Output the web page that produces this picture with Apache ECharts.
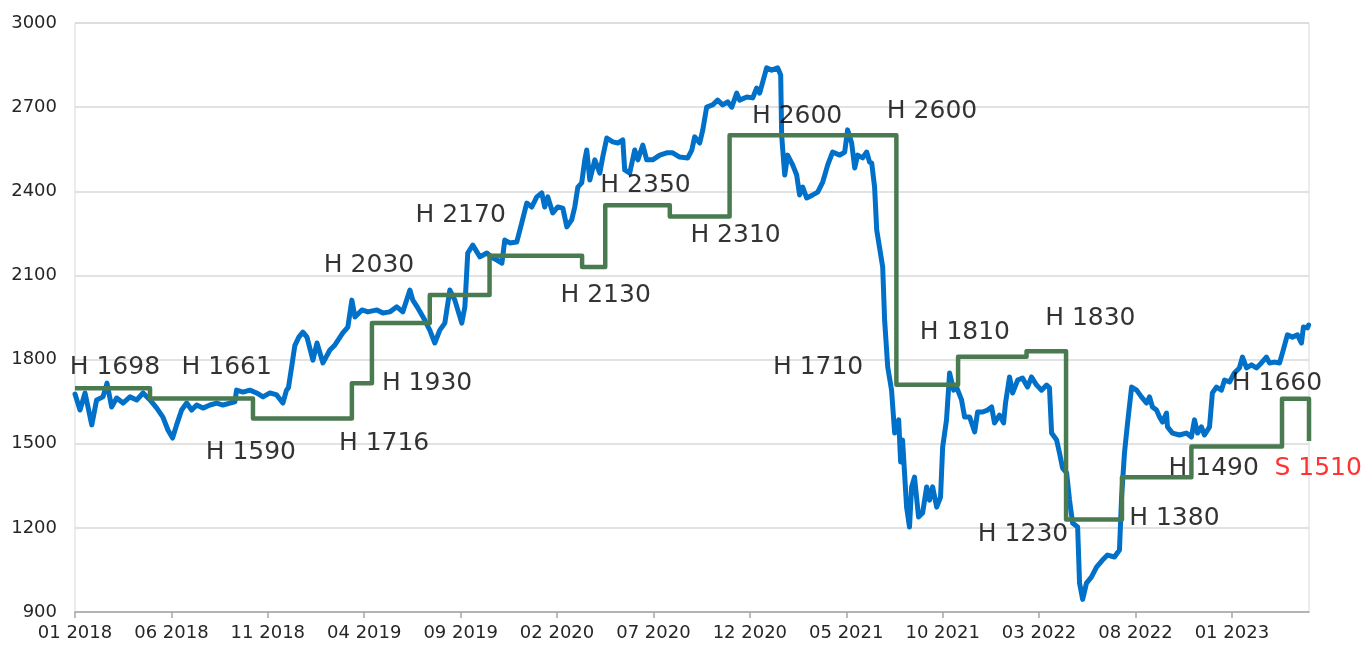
<!DOCTYPE html>
<html>
<head>
<meta charset="utf-8">
<script src="https://cdn.jsdelivr.net/npm/echarts@6/dist/echarts.min.js"></script>
<style>
html,body{margin:0;padding:0;background:#fff;}
#chart{width:1368px;height:646px;}
</style>
</head>
<body>
<div id="chart"></div>
<script>
// ---------- DATA ----------
// x values are months elapsed since 01 2018 (fractional)
const tickMonths = [0,5,10,15,20,25,30,35,40,45,50,55,60];
const tickLabels = ["01 2018","06 2018","11 2018","04 2019","09 2019","02 2020","07 2020","12 2020","05 2021","10 2021","03 2022","08 2022","01 2023"];

const priceT = [
 0.00,0.26,0.52,0.87,1.12,1.45,1.66,1.90,2.16,2.49,2.85,3.20,3.53,3.89,4.24,4.56,4.82,5.06,5.27,5.53,
 5.79,6.05,6.31,6.64,7.00,7.35,7.67,8.04,8.29,8.38,8.71,9.07,9.42,9.75,10.11,10.46,10.78,10.97,11.07,11.25,
 11.40,11.61,11.82,12.03,12.34,12.55,12.86,13.22,13.48,13.89,14.15,14.36,14.52,14.88,15.19,15.66,15.97,16.33,16.69,17.00,
 17.37,17.52,17.78,18.14,18.40,18.66,18.92,19.18,19.44,19.70,20.06,20.22,20.37,20.63,21.00,21.36,21.67,21.88,22.14,22.29,
 22.55,22.91,23.17,23.43,23.69,23.95,24.21,24.36,24.52,24.78,25.04,25.30,25.51,25.76,25.92,26.08,26.28,26.44,26.54,26.70,
 26.96,27.22,27.37,27.58,27.89,28.15,28.41,28.51,28.77,29.03,29.19,29.45,29.65,29.96,30.33,30.69,31.00,31.36,31.78,31.99,
 32.14,32.40,32.56,32.76,33.07,33.33,33.59,33.85,34.06,34.32,34.47,34.84,35.15,35.35,35.51,35.67,35.87,36.13,36.44,36.60,
 36.65,36.70,36.81,36.96,37.22,37.43,37.58,37.74,37.95,38.26,38.52,38.78,39.04,39.29,39.66,39.92,40.07,40.28,40.44,40.59,
 40.85,41.06,41.21,41.32,41.47,41.58,41.89,41.99,42.15,42.35,42.51,42.72,42.82,42.92,43.13,43.28,43.39,43.54,43.75,43.96,
 44.17,44.32,44.48,44.69,44.89,45.00,45.20,45.36,45.57,45.72,45.98,46.14,46.40,46.66,46.81,47.07,47.33,47.54,47.69,47.95,
 48.16,48.26,48.47,48.63,48.89,49.14,49.40,49.61,49.87,50.13,50.39,50.54,50.65,50.91,51.06,51.22,51.43,51.58,51.74,52.00,
 52.10,52.26,52.46,52.72,52.98,53.29,53.55,53.91,54.17,54.28,54.43,54.59,54.80,55.06,55.31,55.57,55.73,55.88,56.09,56.25,
 56.40,56.61,56.66,56.92,57.28,57.64,57.90,58.06,58.22,58.42,58.58,58.84,58.99,59.20,59.46,59.62,59.88,60.13,60.39,60.55,
 60.76,61.02,61.27,61.53,61.79,61.95,62.21,62.47,62.62,62.88,63.14,63.40,63.61,63.71,63.92,63.98
];
const priceV = [
 1677,1620,1681,1567,1656,1667,1716,1631,1663,1645,1667,1656,1681,1656,1627,1595,1549,1520,1567,1620,
 1645,1620,1638,1627,1638,1645,1638,1645,1649,1691,1684,1691,1681,1667,1681,1674,1645,1691,1700,1780,
 1850,1880,1898,1880,1798,1859,1788,1834,1852,1895,1916,2012,1952,1977,1970,1977,1966,1970,1988,1970,
 2048,2012,1984,1941,1905,1859,1905,1930,2048,2012,1930,1988,2180,2208,2166,2180,2162,2155,2144,2226,
 2216,2219,2287,2358,2344,2380,2394,2344,2380,2323,2344,2340,2273,2298,2344,2415,2430,2512,2547,2440,
 2512,2465,2522,2590,2576,2572,2583,2476,2465,2547,2512,2565,2512,2512,2529,2537,2537,2522,2519,2547,
 2594,2572,2619,2700,2708,2725,2708,2719,2700,2750,2725,2736,2733,2768,2750,2790,2840,2832,2840,2815,
 2601,2554,2458,2529,2494,2458,2387,2415,2376,2387,2397,2433,2494,2540,2529,2540,2619,2572,2483,2529,
 2519,2540,2504,2501,2415,2262,2130,1941,1774,1691,1538,1585,1435,1513,1274,1203,1346,1381,1239,1253,
 1346,1299,1346,1274,1310,1488,1585,1752,1691,1702,1656,1595,1595,1542,1613,1613,1620,1631,1574,1602,
 1574,1645,1738,1681,1727,1734,1702,1738,1709,1691,1709,1699,1538,1513,1467,1413,1396,1299,1217,1203,
 1003,945,1003,1025,1060,1085,1103,1096,1121,1310,1467,1574,1702,1691,1667,1645,1667,1631,1620,1595,
 1577,1609,1560,1538,1531,1538,1524,1585,1538,1560,1531,1560,1681,1702,1691,1727,1720,1752,1770,1809,
 1770,1781,1770,1788,1809,1788,1791,1788,1823,1888,1880,1888,1859,1916,1913,1923
];

// stepped level line: each level starts at stepT[i]
const stepT = [0,3.89,9.23,14.36,15.40,18.40,21.50,26.30,27.50,30.85,33.95,42.60,45.80,49.35,51.40,54.30,57.90,62.60,64.00];
const stepV = [1698,1661,1590,1716,1930,2030,2170,2130,2350,2310,2600,1710,1810,1830,1230,1380,1490,1660,1510];

const labelTexts = ["H 1698","H 1661","H 1590","H 1716","H 1930","H 2030","H 2170","H 2130","H 2350","H 2310",
                    "H 2600","H 2600","H 1710","H 1810","H 1830","H 1230","H 1380","H 1490","S 1510","H 1660"];

// ---------- LAYOUT (label anchor positions, left-middle of text, in data units) ----------
const labelAtT = [-0.30,5.50,6.75,13.66,15.89,12.88,17.63,25.15,27.22,31.89,35.08,42.08,36.17,43.78,50.29,46.80,54.65,56.69,62.18,59.97];
const labelAtV = [1773,1770,1470,1499,1716,2134,2312,2027,2421,2243,2665,2683,1770,1895,1945,1178,1235,1413,1413,1716];

const FONT = 'DejaVu Sans';
const chart = echarts.init(document.getElementById('chart'), null, {renderer:'canvas'});

const priceData = priceT.map((t,i)=>[t, priceV[i]]);
const stepData = stepT.map((t,i)=>[t, stepV[i]]);
const labelData = labelTexts.map((s,i)=>({
  value:[labelAtT[i], labelAtV[i]],
  label:{color: s.charAt(0)==='S' ? '#ff0000' : '#000000'}
}));

chart.setOption({
  animation:false,
  backgroundColor:'#ffffff',
  grid:{left:75,right:59,top:23,bottom:34,show:true,borderColor:'#d9d9d9',borderWidth:1},
  xAxis:{
    type:'value',min:0,max:64,interval:5,
    axisLine:{show:true,lineStyle:{color:'#a6a6a6',width:1.5}},
    axisTick:{show:true,length:6,customValues:tickMonths,lineStyle:{color:'#a6a6a6',width:1.5}},
    splitLine:{show:false},
    axisLabel:{
      customValues:tickMonths,
      margin:12,
      color:'#262626',fontFamily:FONT,fontSize:18,
      formatter:(v)=>{const i=tickMonths.indexOf(Math.round(v));return i>=0?tickLabels[i]:'';}
    }
  },
  yAxis:{
    type:'value',min:900,max:3000,interval:300,
    axisLine:{show:false},axisTick:{show:false},
    splitLine:{show:true,lineStyle:{color:'#d9d9d9',width:1.5}},
    axisLabel:{margin:18,color:'#262626',fontFamily:FONT,fontSize:18,formatter:(v)=>String(v)}
  },
  series:[
    {
      type:'line',data:priceData,showSymbol:false,symbol:'none',
      lineStyle:{color:'#0070c8',width:5,join:'round',cap:'round'},
      z:2
    },
    {
      type:'line',data:stepData,step:'end',showSymbol:false,symbol:'none',
      lineStyle:{color:'#4a7a50',width:4.5,join:'round'},
      z:3
    },
    {
      type:'scatter',data:labelData,symbolSize:1,clip:false,silent:true,
      itemStyle:{color:'rgba(0,0,0,0)'},
      label:{show:true,position:'right',distance:0,fontFamily:FONT,fontSize:25,
             formatter:(p)=>labelTexts[p.dataIndex]},
      z:5
    }
  ]
});
</script>
</body>
</html>
